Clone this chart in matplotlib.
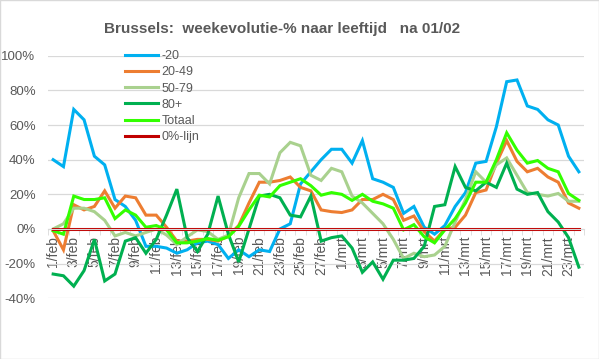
import numpy as np
import matplotlib
matplotlib.use('Agg')
import matplotlib.pyplot as plt
from matplotlib.patches import Rectangle

plt.rcParams['font.family'] = ['Liberation Sans', 'DejaVu Sans']

# dagen 1/feb .. 24/mrt
n_days = 52
labels = [f'{d+1}/feb' if d < 28 else f'{d-27}/mrt' for d in range(n_days)]

m20 = [40, 36, 69, 63, 42, 37, 17, 13, 5, -10, -10, -11, -14, -12, -8, -7, -9, -17, -12, -16,
       -12, -13, 0, 3, 26, 33, 40, 46, 46, 38, 51, 29, 27, 24, 9, 13, 1, -3, 2, 13,
       21, 38, 39, 59, 85, 86, 71, 69, 63, 60, 42, 33]
a2049 = [-1, -12, 14, 11, 13, 22, 12, 19, 18, 8, 8, 1, -7, -7, -6, -6, -7, -4, 2, 15,
         27, 27, 28, 30, 24, 22, 11, 10, 9.5, 11, 17, 17, 20, 17, 5, 7.5, -1.5, -7, 0, 1,
         8, 21, 22.5, 38, 51, 39, 33, 35, 30, 27, 15, 12]
a5079 = [0, 3, 12, 12, 10, 5, -4, -2, -4, -2, 0, -3.5, -9, -4.5, -0.5, -1.5, -6, -3.5, 18, 32,
         32, 26, 44, 50, 48, 31, 28, 35, 33, 19, 15, 9, 3, -6, -17, -14, -16, -15, -10, 4,
         17, 33, 27, 37, 41, 31, 21, 20, 19, 20.5, 16, 16]
a80 = [-26, -27, -33, -24, -6, -30, -26, -7, -5, -14, -6, 8, 23, -5, -13, -3, 19, -3, -19, 0,
       19, 20, 18, 8, 7, 19, -7, -5, -4, -11, -25, -19, -29, -18, -18, -17, -10, 13, 14, 36,
       24, 22, 27, 24, 38, 23, 20, 21, 10, 4, -5, -22]
totaal = [-1, -3, 19, 17, 17, 18, 6, 11, 8, 1, 2, -0.5, -8, -8, -7, -5.5, -6.5, -4.5, 1.5, 11,
          19.5, 18.5, 25, 27, 29, 25, 19.5, 21, 20, 16.5, 20, 16, 14.5, 12, -0.5, 2.5, -4.5, -8, -0.5, 6,
          15, 27, 27, 40, 55.5, 45.5, 38, 39.5, 35, 33, 20.5, 16.5]
nul = [0] * n_days

series = [('-20', m20, '#00b0f0'), ('20-49', a2049, '#ed7d31'), ('50-79', a5079, '#a9d18e'),
          ('80+', a80, '#00b050'), ('Totaal', totaal, '#33ff00'), ('0%-lijn', nul, '#c00000')]

fig = plt.figure(figsize=(5.99, 3.59), dpi=100)
ax = fig.add_axes([48/599, 1-298.3/359, 536/599, (298.3-55.7)/359])

# spine eerst verplaatsen, anders gaan tick-instellingen verloren
for s in ['top', 'right', 'left']:
    ax.spines[s].set_visible(False)
ax.spines['bottom'].set_position(('data', 0))
ax.spines['bottom'].set_color('#d9d9d9')

x = np.arange(n_days)
for name, vals, col in series:
    ax.plot(x, vals, color=col, lw=2.2, label=name, solid_joinstyle='miter')

ax.set_xlim(-0.5, n_days-0.5)
ax.set_ylim(-40, 100)
ax.set_yticks(range(-40, 101, 20))
ax.set_yticklabels([f'{v}%' for v in range(-40, 101, 20)])
ax.yaxis.grid(True, color='#d9d9d9', lw=0.9)
ax.set_axisbelow(True)

ax.set_xticks(x[::2])
ax.set_xticklabels(labels[::2])
ax.set_xticks(np.arange(-0.5, n_days, 1), minor=True)
ax.tick_params(axis='x', which='major', length=0, pad=5, labelsize=10, colors='#595959',
               labelrotation=90)
ax.tick_params(axis='x', which='minor', length=4, color='#d9d9d9')
ax.tick_params(axis='y', length=0, pad=9, labelsize=9.5, colors='#595959')

leg = ax.legend(loc='upper left', bbox_to_anchor=(125/599, 1-50/359), bbox_transform=fig.transFigure,
                frameon=False, fontsize=9, handlelength=2.6, handletextpad=0.3,
                labelspacing=0.34, borderpad=0, borderaxespad=0)
for t in leg.get_texts():
    t.set_color('#595959')

fig.text(282/599, 1-28.7/359, 'Brussels:  weekevolutie-% naar leeftijd   na 01/02',
         ha='center', va='center', fontsize=11, fontweight='bold', color='#595959')

fig.patches.append(Rectangle((0, 0), 1, 1, transform=fig.transFigure, fill=False,
                             edgecolor='#d9d9d9', lw=1))

fig.savefig('out.png', dpi=100)
